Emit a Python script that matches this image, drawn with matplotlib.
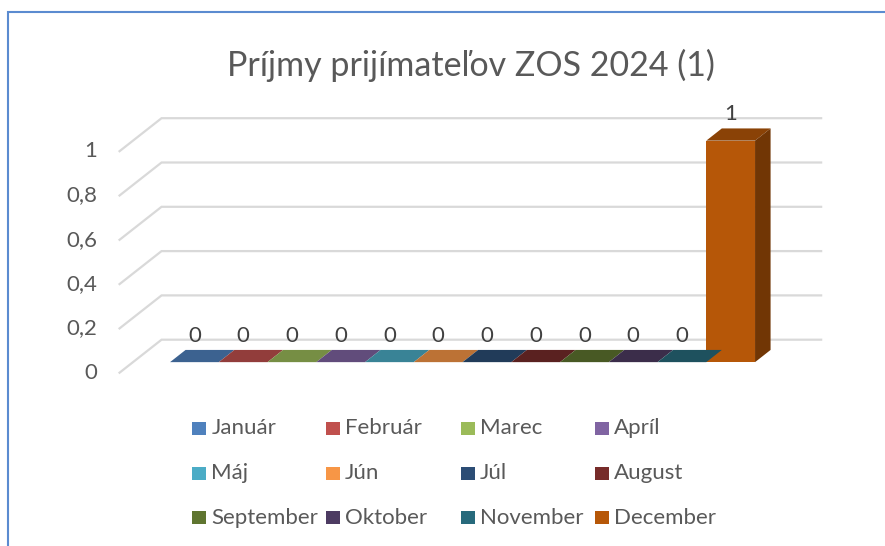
import matplotlib
matplotlib.use("Agg")
import matplotlib.pyplot as plt
from matplotlib.patches import Polygon, Rectangle
import numpy as np

plt.rcParams['font.family'] = ['Lato', 'DejaVu Sans']

title = "Príjmy prijímateľov ZOS 2024 (1)"
months = ["Január", "Február", "Marec", "Apríl", "Máj", "Jún",
          "Júl", "August", "September", "Oktober", "November", "December"]
values = [0, 0, 0, 0, 0, 0, 0, 0, 0, 0, 0, 1]
colors = ["#4F81BD", "#C0504D", "#9BBB59", "#8064A2", "#4BACC6", "#F79646",
          "#2C4D75", "#772C2A", "#5F7530", "#4D3B62", "#276A7C", "#B65708"]
yticks = [0, 0.2, 0.4, 0.6, 0.8, 1]
ytick_labels = ["0", "0,2", "0,4", "0,6", "0,8", "1"]

W, H = 885, 546
fig = plt.figure(figsize=(W / 100, H / 100), dpi=100)
ax = fig.add_axes([0, 0, 1, 1])
ax.axis("off")

# pixel layout of the fake 3d box
px_cat = 48.75          # px per category
px_val = 221.5          # px per unit value
x0_px, y0_px = 156.6, 372.7
ax.set_xlim(-x0_px / px_cat, (W - x0_px) / px_cat)
ax.set_ylim((y0_px - H) / px_val, y0_px / px_val)

DX = 42 / px_cat        # depth shift in data units
DY = 33 / px_val
wall_left, wall_right = -0.76, 12.77
t_front, t_back = 0.32, 0.69


def proj(c, v, t):
    return c + t * DX, v + t * DY


def shade(col, f):
    rgb = np.array(matplotlib.colors.to_rgb(col))
    return tuple(rgb * f)


# gridlines: back wall + left side wall
grid_col = "#D9D9D9"
for v, lab in zip(yticks, ytick_labels):
    xa, ya = proj(wall_left, v, 0)
    xb, yb = proj(wall_left, v, 1)
    xc, yc = proj(wall_right, v, 1)
    ax.plot([xa, xb, xc], [ya, yb, yc], color=grid_col, lw=1.6, zorder=1,
            solid_joinstyle="miter")
    ax.annotate(lab, (xa, ya), xytext=(-16, 0), textcoords="offset points",
                ha="right", va="center", fontsize=16, color="#595959")

# bars
x = np.arange(len(values))
fx, fy = proj(0, 0, t_front)
ax.bar(x + fx, values, width=1, bottom=fy, align="edge", color=colors,
       linewidth=0, zorder=3)
for i, (v, col) in enumerate(zip(values, colors)):
    top = [proj(i, v, t_front), proj(i + 1, v, t_front),
           proj(i + 1, v, t_back), proj(i, v, t_back)]
    ax.add_patch(Polygon(top, closed=True, facecolor=shade(col, 0.76),
                         edgecolor="none", zorder=3))
    if v > 0:
        side = [proj(i + 1, 0, t_front), proj(i + 1, v, t_front),
                proj(i + 1, v, t_back), proj(i + 1, 0, t_back)]
        ax.add_patch(Polygon(side, closed=True, facecolor=shade(col, 0.62),
                             edgecolor="none", zorder=3))
    lx, _ = proj(i + 0.5, v, t_front)
    _, ly = proj(i + 0.5, v, t_back)
    ax.annotate(f"{v:g}", (lx, ly), xytext=(0, 3), textcoords="offset points",
                ha="center", va="bottom", fontsize=16, color="#404040", zorder=4)

# title
fig.text(471 / W, 1 - 65 / H, title, ha="center", va="center",
         fontsize=24.5, color="#595959")

# legend, 4 columns x 3 rows
col_px = [192.3, 326, 461, 595]
row_px = [428.3, 473.3, 517.7]
sq = 13.5
for i, (m, col) in enumerate(zip(months, colors)):
    cx = col_px[i % 4]
    cy = row_px[i // 4]
    fig.patches.append(Rectangle((cx / W, 1 - (cy + sq / 2) / H), sq / W, sq / H,
                                 transform=fig.transFigure, facecolor=col,
                                 edgecolor="none"))
    fig.text((cx + sq + 5.5) / W, 1 - cy / H, m, ha="left", va="center",
             fontsize=16, color="#595959")

# chart border (partially visible)
fig.patches.append(Rectangle((8 / W, -0.1), 1.2, 1.1 - 12 / H,
                             transform=fig.transFigure, facecolor="none",
                             edgecolor="#5B8BD0", linewidth=1.5))

fig.savefig("out.png", dpi=100)
